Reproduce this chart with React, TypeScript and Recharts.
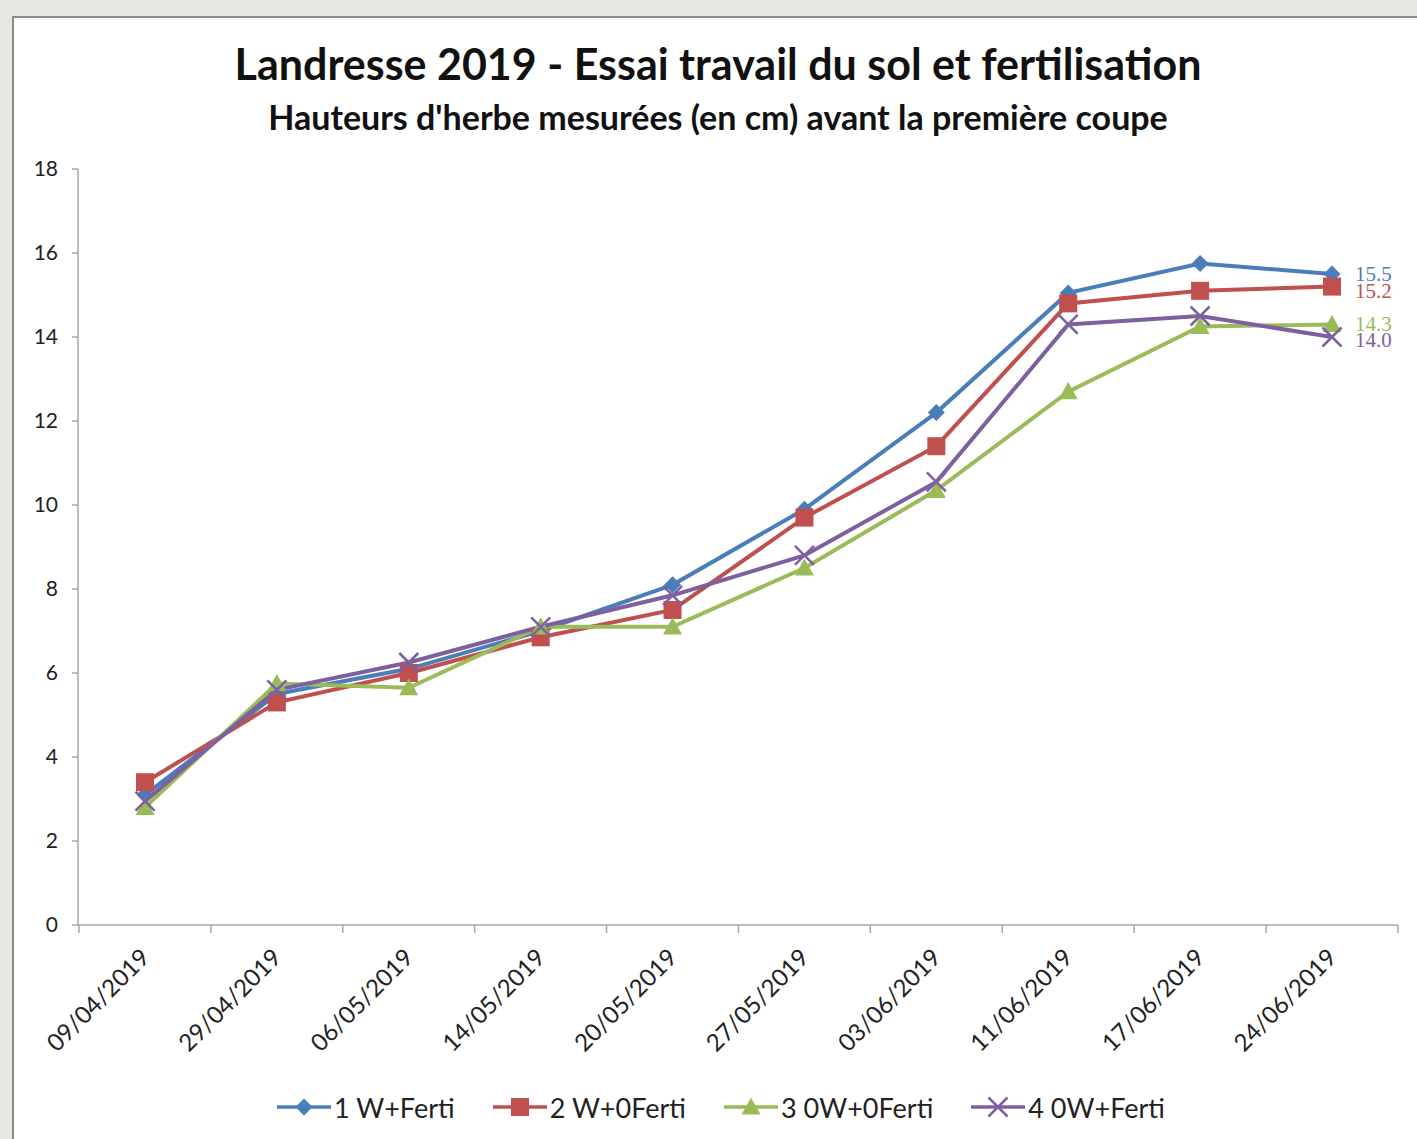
import React from 'react';
import { LineChart, Line, XAxis, YAxis, Legend } from 'recharts';

const dates = [
  '09/04/2019', '29/04/2019', '06/05/2019', '14/05/2019', '20/05/2019',
  '27/05/2019', '03/06/2019', '11/06/2019', '17/06/2019', '24/06/2019',
];
const wFerti = [3.1, 5.5, 6.1, 7.0, 8.1, 9.9, 12.2, 15.05, 15.75, 15.5];
const w0Ferti = [3.4, 5.3, 6.0, 6.85, 7.5, 9.7, 11.4, 14.8, 15.1, 15.2];
const ow0Ferti = [2.8, 5.75, 5.65, 7.1, 7.1, 8.5, 10.35, 12.7, 14.25, 14.3];
const owFerti = [2.95, 5.6, 6.25, 7.1, 7.85, 8.8, 10.55, 14.3, 14.5, 14.0];
const yTicks = [0, 2, 4, 6, 8, 10, 12, 14, 16, 18];

const SERIES = [
  { key: 's1', name: '1 W+Ferti', color: '#4a7ebb', shape: 'diamond', labelDy: 0 },
  { key: 's2', name: '2 W+0Ferti', color: '#c0504d', shape: 'square', labelDy: 4 },
  { key: 's3', name: '3 0W+0Ferti', color: '#9bbb59', shape: 'triangle', labelDy: 0 },
  { key: 's4', name: '4 0W+Ferti', color: '#7d60a0', shape: 'cross', labelDy: 3 },
];

const data = dates.map((d, i) => ({
  date: d,
  s1: wFerti[i],
  s2: w0Ferti[i],
  s3: ow0Ferti[i],
  s4: owFerti[i],
}));

const FONT = 'Lato, "Open Sans", sans-serif';

function Marker({ cx, cy, shape, color }: any) {
  if (cx == null || cy == null) return null;
  if (shape === 'diamond') {
    const r = 8.5;
    return <polygon points={`${cx},${cy - r} ${cx + r},${cy} ${cx},${cy + r} ${cx - r},${cy}`} fill={color} />;
  }
  if (shape === 'square') {
    const r = 9;
    return <rect x={cx - r} y={cy - r} width={r * 2} height={r * 2} fill={color} />;
  }
  if (shape === 'triangle') {
    const r = 9.5;
    return <polygon points={`${cx},${cy - r} ${cx + r},${cy + r * 0.8} ${cx - r},${cy + r * 0.8}`} fill={color} />;
  }
  const r = 9.5;
  return (
    <g stroke={color} strokeWidth={2.5}>
      <line x1={cx - r} y1={cy - r} x2={cx + r} y2={cy + r} />
      <line x1={cx - r} y1={cy + r} x2={cx + r} y2={cy - r} />
    </g>
  );
}

function DateTick({ x, y, payload, index }: any) {
  const half = 66;
  const ax = x + 6;
  const ay = y + 34;
  return (
    <g>
      <line x1={x - half} y1={y} x2={x - half} y2={y + 8} stroke="#a6a6a6" strokeWidth={1.5} />
      {index === dates.length - 1 && (
        <line x1={x + half} y1={y} x2={x + half} y2={y + 8} stroke="#a6a6a6" strokeWidth={1.5} />
      )}
      <text
        x={ax}
        y={ay}
        transform={`rotate(-45 ${ax} ${ay})`}
        textAnchor="end"
        fontFamily={FONT}
        fontSize={24}
        fill="#222"
      >
        {payload.value}
      </text>
    </g>
  );
}

function LegendContent() {
  return (
    <div style={{ display: 'flex', justifyContent: 'center', gap: 38, height: 30, paddingLeft: 26, fontFamily: FONT, fontSize: 27, color: '#222' }}>
      {SERIES.map((s) => (
        <div key={s.key} style={{ display: 'flex', alignItems: 'center' }}>
          <svg width={54} height={30}>
            <line x1={0} y1={15} x2={54} y2={15} stroke={s.color} strokeWidth={3.5} />
            <Marker cx={27} cy={15} shape={s.shape} color={s.color} />
          </svg>
          <span style={{ marginLeft: 3 }}>{s.name}</span>
        </div>
      ))}
    </div>
  );
}

export default function App() {
  return (
    <div style={{ position: 'absolute', left: 0, top: 0, width: 1417, height: 1139, background: '#e6e8e3', overflow: 'hidden' }}>
      <div
        style={{
          position: 'absolute', left: 12, top: 16, width: 1420, height: 1140,
          background: '#fff', borderLeft: '2px solid #8c8c8c', borderTop: '2px solid #8c8c8c',
        }}
      />
      <div style={{ position: 'absolute', left: 0, top: 38, width: 1436, textAlign: 'center', fontFamily: FONT, fontWeight: 700, fontSize: 43, color: '#111' }}>
        Landresse 2019 - Essai travail du sol et fertilisation
      </div>
      <div style={{ position: 'absolute', left: 0, top: 96, width: 1436, textAlign: 'center', fontFamily: FONT, fontWeight: 700, fontSize: 34, color: '#111' }}>
        Hauteurs d'herbe mesurées (en cm) avant la première coupe
      </div>
      <div style={{ position: 'absolute', left: 0, top: 0 }}>
        <LineChart width={1417} height={1139} data={data} margin={{ top: 169, right: 19, bottom: 17, left: 18 }}>
          <XAxis
            dataKey="date"
            interval={0}
            height={167}
            padding={{ left: 67, right: 66 }}
            tickLine={false}
            tickSize={0}
            tickMargin={0}
            stroke="#a6a6a6"
            strokeWidth={1.5}
            tick={<DateTick />}
          />
          <YAxis
            domain={[0, 18]}
            ticks={yTicks}
            width={60}
            tickSize={6}
            tickMargin={14}
            stroke="#a6a6a6"
            strokeWidth={1.5}
            tick={{ fontFamily: FONT, fontSize: 21, fill: '#222' }}
          />
          <Legend verticalAlign="bottom" content={<LegendContent />} />
          {SERIES.map((s) => (
            <Line
              key={s.key}
              dataKey={s.key}
              name={s.name}
              stroke={s.color}
              strokeWidth={4}
              type="linear"
              isAnimationActive={false}
              dot={(p: any) => <Marker key={`${s.key}-${p.index}`} cx={p.cx} cy={p.cy} shape={s.shape} color={s.color} />}
              activeDot={false}
              label={(p: any) =>
                p.index === dates.length - 1 ? (
                  <text
                    key={`${s.key}-lbl`}
                    x={p.x + 23}
                    y={p.y + s.labelDy}
                    dominantBaseline="central"
                    fontFamily='"Liberation Serif", serif'
                    fontSize={21}
                    fill={s.color}
                  >
                    {Number(p.value).toFixed(1)}
                  </text>
                ) : (
                  <g key={`${s.key}-lbl-${p.index}`} />
                )
              }
            />
          ))}
        </LineChart>
      </div>
    </div>
  );
}
